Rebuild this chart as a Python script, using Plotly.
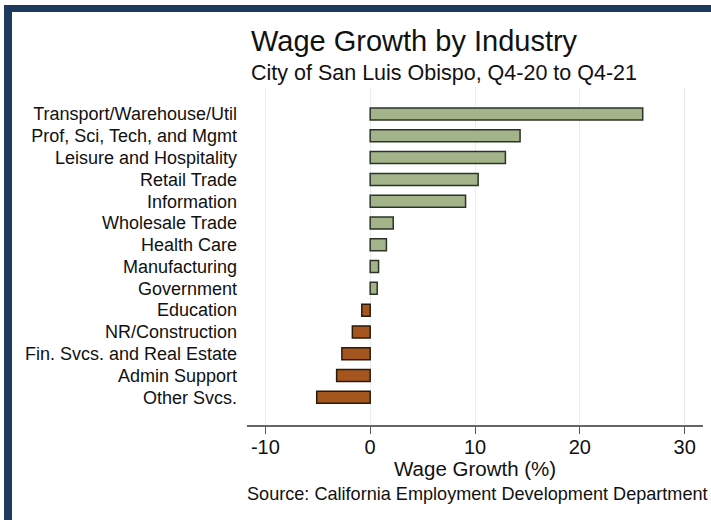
import plotly.graph_objects as go

industries = [
    "Transport/Warehouse/Util",
    "Prof, Sci, Tech, and Mgmt",
    "Leisure and Hospitality",
    "Retail Trade",
    "Information",
    "Wholesale Trade",
    "Health Care",
    "Manufacturing",
    "Government",
    "Education",
    "NR/Construction",
    "Fin. Svcs. and Real Estate",
    "Admin Support",
    "Other Svcs.",
]
growth = [26.0, 14.3, 12.9, 10.3, 9.1, 2.2, 1.55, 0.8, 0.67, -0.8, -1.7, -2.7, -3.2, -5.1]
x_ticks = [-10, 0, 10, 20, 30]

W, H = 711, 520
L, R, T, B = 247, 8, 87, 95
pw, ph = W - L - R, H - T - B


def px2x(px):
    return (px - L) / pw


def py2y(py):
    return (H - B - py) / ph


green_fill, green_line = "#a3b38a", "#2b3427"
brown_fill, brown_line = "#a5561f", "#2a1a0c"
fills = [green_fill if v >= 0 else brown_fill for v in growth]
lines = [green_line if v >= 0 else brown_line for v in growth]

fig = go.Figure(
    go.Bar(
        x=growth,
        y=industries,
        orientation="h",
        width=0.55,
        marker=dict(color=fills, line=dict(color=lines, width=1.5)),
        hovertemplate="%{y}: %{x:.1f}%<extra></extra>",
    )
)

font_family = "Helvetica, Arial, Liberation Sans, sans-serif"

fig.update_layout(
    width=W,
    height=H,
    margin=dict(l=L, r=R, t=T, b=B, pad=0),
    paper_bgcolor="white",
    plot_bgcolor="white",
    showlegend=False,
    font=dict(family=font_family, color="#111111"),
    xaxis=dict(
        range=[-11.75, 31.75],
        tickmode="array",
        tickvals=x_ticks,
        ticktext=[str(v) for v in x_ticks],
        showgrid=True,
        gridcolor="#e6eff1",
        gridwidth=1,
        zeroline=False,
        showline=True,
        linecolor="#666666",
        linewidth=1.5,
        ticks="outside",
        ticklen=7,
        tickcolor="#555555",
        tickwidth=1.2,
        ticklabelstandoff=-4,
        tickfont=dict(size=20, color="#111111"),
    ),
    yaxis=dict(
        type="category",
        categoryorder="array",
        categoryarray=industries,
        tickmode="array",
        tickvals=industries,
        ticktext=industries,
        range=[14.27, -1.24],
        showgrid=False,
        zeroline=False,
        showline=False,
        ticks="",
        ticklabelstandoff=9,
        tickfont=dict(size=18, color="#111111"),
    ),
    annotations=[
        dict(
            text="Wage Growth by Industry",
            xref="paper", yref="paper",
            x=px2x(249), y=py2y(41),
            xanchor="left", yanchor="middle",
            showarrow=False,
            font=dict(size=29, color="#111111"),
        ),
        dict(
            text="City of San Luis Obispo, Q4-20 to Q4-21",
            xref="paper", yref="paper",
            x=px2x(249), y=py2y(73),
            xanchor="left", yanchor="middle",
            showarrow=False,
            font=dict(size=21.5, color="#111111"),
        ),
        dict(
            text="Wage Growth (%)",
            xref="paper", yref="paper",
            x=0.5, y=py2y(468),
            xanchor="center", yanchor="middle",
            showarrow=False,
            font=dict(size=20.5, color="#111111"),
        ),
        dict(
            text="Source: California Employment Development Department",
            xref="paper", yref="paper",
            x=px2x(245), y=py2y(494),
            xanchor="left", yanchor="middle",
            showarrow=False,
            font=dict(size=18.1, color="#111111"),
        ),
    ],
    shapes=[
        dict(
            type="line", xref="paper", yref="paper",
            x0=px2x(8), x1=px2x(8), y0=py2y(5), y1=py2y(520),
            line=dict(color="#1d3a5c", width=8),
        ),
        dict(
            type="line", xref="paper", yref="paper",
            x0=px2x(4), x1=px2x(711), y0=py2y(8.5), y1=py2y(8.5),
            line=dict(color="#1d3a5c", width=7),
        ),
    ],
)

fig.write_html(
    "out.html",
    config={"displayModeBar": False},
    post_script="document.body.style.margin='0';document.body.style.padding='0';document.body.style.overflow='hidden';",
)
